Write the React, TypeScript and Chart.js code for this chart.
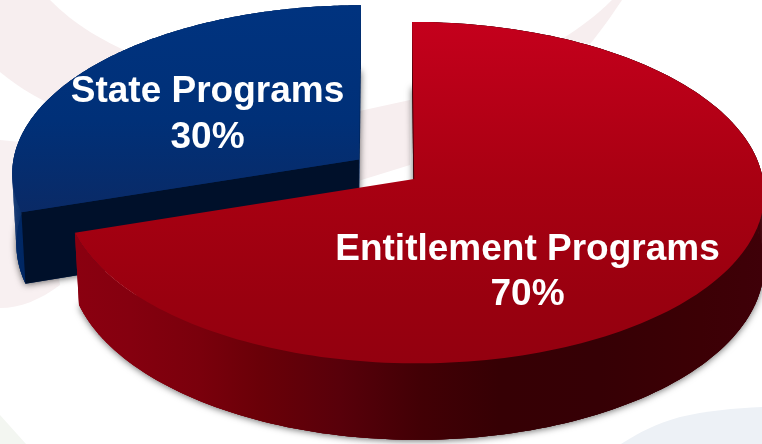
import React, { useEffect, useRef } from "react";
import { Chart, registerables } from "chart.js";

Chart.register(...registerables);

const categories = ["Entitlement Programs", "State Programs"];
const shares = [70, 30];
const explodePx = [20, 19.4];
const baseColors = ["#a80012", "#00307a"];

// Vertical colour ramps for the top faces, [canvas y, colour].
const topRamps: [number, string][][] = [
  [[23, "#c4001c"], [179, "#a90012"], [300, "#99000f"], [364, "#93000f"]],
  [[7, "#00337f"], [120, "#003078"], [212, "#0a2a66"]],
];
// Horizontal colour ramps for the rim walls, [canvas x, colour].
const wallRamps: [number, string][][] = [
  [[78, "#8a0010"], [130, "#85000f"], [200, "#7a000c"], [260, "#6a0008"], [340, "#58000a"], [420, "#420005"], [500, "#360004"], [600, "#360005"], [700, "#3c0005"], [765, "#3f0008"]],
  [[10, "#00296a"], [30, "#00265f"]],
];
const cutFaceColors = ["#40000a", "#00102a"];

// Label anchors on the canvas: [x, first baseline, second baseline].
const labelAnchors = [
  [527.5, 260, 305],
  [207.5, 102, 148],
];

// Ground-plane camera: origin on screen, horizontal and vertical scale, foreshortening.
const VIEW = { x: 386, y: 169, a: 347, b: 168, q: 0.08 };
const WALL_HEIGHT = 70;
const WALL_TAPER = 0.012;
const STEPS = 180;

type Pt = [number, number];

function projectTop(arc: any, radial: number, angle: number): Pt {
  const mid = (arc.startAngle + arc.endAngle) / 2;
  const e = arc.options.offset / arc.outerRadius;
  const X = Math.cos(mid) * e + radial * Math.cos(angle);
  const Y = Math.sin(mid) * e + radial * Math.sin(angle);
  const w = 1 - VIEW.q * Y;
  return [VIEW.x + (VIEW.a * X) / w, VIEW.y + (VIEW.b * Y) / w];
}

function projectBottom(arc: any, radial: number, angle: number): Pt {
  const [sx, sy] = projectTop(arc, radial, angle);
  const [ax] = projectTop(arc, 0, 0);
  const mid = (arc.startAngle + arc.endAngle) / 2;
  const e = arc.options.offset / arc.outerRadius;
  const Y = Math.sin(mid) * e + radial * Math.sin(angle);
  const w = 1 - VIEW.q * Y;
  return [sx < ax ? sx + (ax - sx) * WALL_TAPER : sx, sy + WALL_HEIGHT / w];
}

function rim(arc: any, project: (a: any, r: number, t: number) => Pt): Pt[] {
  const pts: Pt[] = [];
  for (let i = 0; i <= STEPS; i++) {
    const t = arc.startAngle + ((arc.endAngle - arc.startAngle) * i) / STEPS;
    pts.push(project(arc, 1, t));
  }
  return pts;
}

function fillPoly(ctx: CanvasRenderingContext2D, pts: Pt[]) {
  ctx.beginPath();
  pts.forEach(([x, y], i) => (i ? ctx.lineTo(x, y) : ctx.moveTo(x, y)));
  ctx.closePath();
  ctx.fill();
}

function ramp(ctx: CanvasRenderingContext2D, stops: [number, string][], vertical: boolean) {
  const lo = stops[0][0];
  const hi = stops[stops.length - 1][0];
  const g = vertical ? ctx.createLinearGradient(0, lo, 0, hi) : ctx.createLinearGradient(lo, 0, hi, 0);
  stops.forEach(([p, c]) => g.addColorStop((p - lo) / (hi - lo), c));
  return g;
}

// Renders the pie's arc elements as solid slices seen from above at an angle.
const tiltedSlices = {
  id: "tiltedSlices",
  beforeDatasetsDraw(chart: any) {
    const { ctx } = chart;
    const arcs = chart.getDatasetMeta(0).data;
    const backToFront = [1, 0];

    backToFront.forEach((i) => {
      const arc = arcs[i];
      const top = rim(arc, projectTop);
      const bottom = rim(arc, projectBottom);
      const wall = ramp(ctx, wallRamps[i], false);

      ctx.save();
      ctx.shadowColor = "rgba(0,0,0,0.6)";
      ctx.shadowBlur = 7;
      ctx.shadowOffsetY = 1;
      ctx.fillStyle = wall;
      fillPoly(ctx, [projectBottom(arc, 0, 0), ...bottom]);
      ctx.restore();

      // A band for the body of the wall, then quads so its silhouette follows the tangent edges.
      ctx.fillStyle = wall;
      fillPoly(ctx, [...top, ...bottom.slice().reverse()]);
      for (let s = 0; s < STEPS; s++) {
        fillPoly(ctx, [top[s], top[s + 1], bottom[s + 1], bottom[s]]);
      }

      ctx.fillStyle = cutFaceColors[i];
      fillPoly(ctx, [
        projectTop(arc, 0, 0),
        top[0],
        bottom[0],
        projectBottom(arc, 0, 0),
      ]);
    });

    backToFront.forEach((i) => {
      const arc = arcs[i];
      ctx.fillStyle = ramp(ctx, topRamps[i], true);
      fillPoly(ctx, [projectTop(arc, 0, 0), ...rim(arc, projectTop)]);
    });
    return false;
  },
  afterDraw(chart: any) {
    const { ctx } = chart;
    ctx.save();
    ctx.fillStyle = "#ffffff";
    ctx.font = 'bold 37px "Liberation Sans", Arial, sans-serif';
    ctx.textAlign = "center";
    categories.forEach((name, i) => {
      const [x, y1, y2] = labelAnchors[i];
      ctx.fillText(name, x, y1);
      ctx.fillText(`${shares[i]}%`, x, y2);
    });
    ctx.restore();
  },
};

export default function App() {
  const ref = useRef<HTMLCanvasElement>(null);

  useEffect(() => {
    document.body.style.margin = "0";
    const chart = new Chart(ref.current!, {
      type: "pie",
      data: {
        labels: categories,
        datasets: [
          {
            data: shares,
            backgroundColor: baseColors,
            offset: explodePx,
            borderWidth: 0,
          },
        ],
      },
      options: {
        responsive: false,
        animation: false,
        events: [],
        radius: 200,
        layout: { padding: 0 },
        plugins: { legend: { display: false }, tooltip: { enabled: false } },
      },
      plugins: [tiltedSlices],
    } as any);
    return () => chart.destroy();
  }, []);

  return (
    <div style={{ position: "fixed", left: 0, top: 0, width: 762, height: 444, overflow: "hidden", background: "#ffffff" }}>
      <svg width={762} height={444} style={{ position: "absolute", left: 0, top: 0 }}>
        <path d="M50 0 C75 25 100 40 150 62 L150 130 C90 125 40 105 0 72 L0 0 Z" fill="#f7eeef" />
        <path d="M0 140 L40 144 L60 285 C40 300 20 308 0 308 Z" fill="#f8f0f1" />
        <path d="M355 112 L410 100 L410 165 L355 182 Z" fill="#f7eeef" />
        <path d="M612 0 L622 0 C610 18 600 32 590 44 L560 40 C580 28 598 14 612 0 Z" fill="#f7eeef" />
        <path d="M621 444 C640 432 655 424 680 417 C705 411 735 408 762 407 L762 444 Z" fill="#edf1f6" />
        <path d="M0 415 L26 444 L0 444 Z" fill="#f3f6f1" />
      </svg>
      <canvas ref={ref} width={762} height={444} style={{ position: "absolute", left: 0, top: 0 }} />
    </div>
  );
}
